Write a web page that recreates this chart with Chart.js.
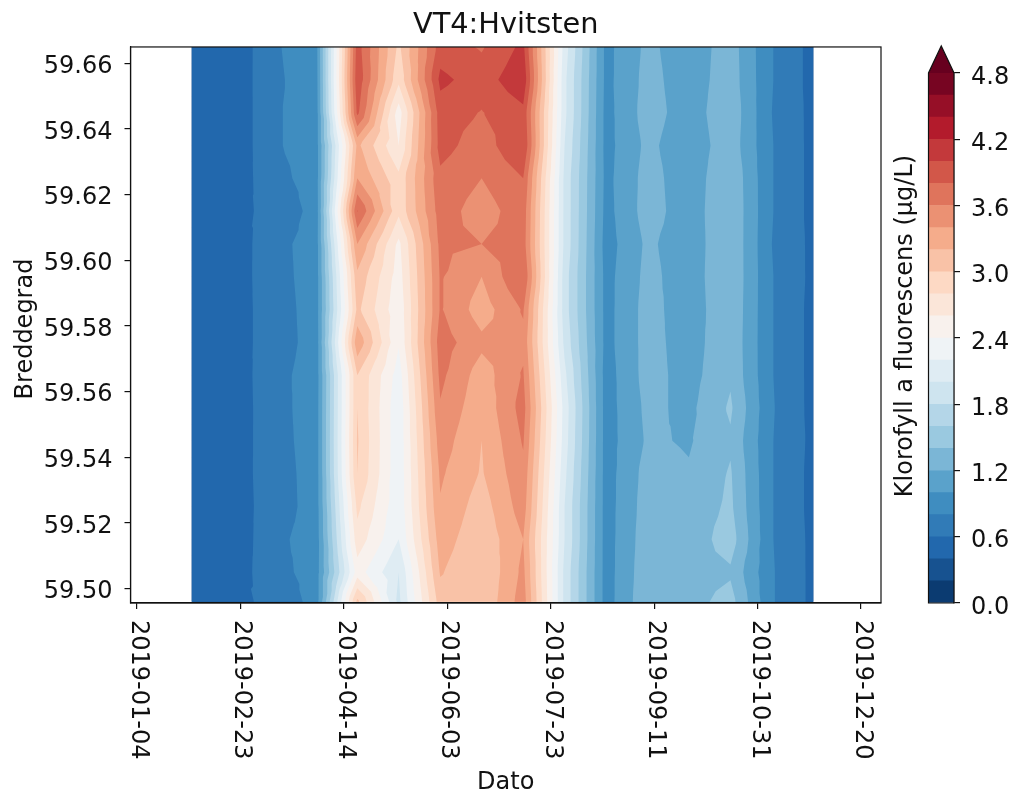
<!DOCTYPE html>
<html>
<head>
<meta charset="utf-8">
<title>VT4:Hvitsten</title>
<script src="https://cdn.jsdelivr.net/npm/chart.js@4"></script>
<style>
    body { margin: 0; background: #fff; }
    canvas { position: absolute; top: 0; }
    #contourChart { left: 0; }
    #colorbarChart { left: 880px; }
</style>
</head>
<body>
<canvas id="contourChart" width="1016" height="798"></canvas>
<canvas id="colorbarChart" width="136" height="798"></canvas>
<script>
// x is days since 2019-01-01
const days = [29.5, 49.5, 69.5, 89.5, 109.5, 129.5, 149.6, 169.6, 189.7, 209.7, 229.8, 249.8, 269.8, 289.9, 309.9, 329.9];
const lats = [59.665, 59.655, 59.645, 59.635, 59.625, 59.615, 59.605, 59.595, 59.585, 59.575, 59.565, 59.555, 59.545, 59.535, 59.525, 59.515, 59.505, 59.496];

// one list per date, from north to south
const fluorescence = [
    [0.46, 0.46, 0.45, 0.46, 0.45, 0.45, 0.46, 0.46, 0.45, 0.45, 0.46, 0.46, 0.45, 0.45, 0.46, 0.46, 0.46, 0.45],
    [0.44, 0.45, 0.44, 0.44, 0.47, 0.55, 0.48, 0.49, 0.50, 0.50, 0.47, 0.47, 0.48, 0.50, 0.50, 0.45, 0.49, 0.57],
    [0.78, 0.77, 0.78, 0.78, 0.74, 0.65, 0.74, 0.73, 0.71, 0.71, 0.75, 0.74, 0.73, 0.71, 0.70, 0.76, 0.73, 0.63],
    [0.90, 0.89, 0.88, 0.88, 0.88, 0.87, 0.88, 0.88, 0.88, 0.87, 0.87, 0.88, 0.88, 0.88, 0.88, 0.87, 0.88, 0.88],
    [3.90, 3.95, 3.85, 3.25, 3.40, 3.81, 3.40, 3.15, 3.05, 3.35, 3.00, 3.00, 3.02, 3.00, 2.85, 2.72, 2.50, 3.05],
    [2.95, 2.85, 2.50, 2.60, 2.85, 2.85, 2.55, 2.50, 2.45, 2.42, 2.30, 2.25, 2.25, 2.25, 2.25, 2.20, 2.00, 1.95],
    [3.90, 4.05, 3.90, 3.88, 3.75, 3.70, 3.65, 3.62, 3.62, 3.70, 3.65, 3.58, 3.50, 3.43, 3.38, 3.30, 3.22, 3.10],
    [3.78, 3.90, 3.79, 3.69, 3.60, 3.50, 3.60, 3.40, 3.30, 3.45, 3.30, 3.25, 3.20, 3.18, 3.10, 3.05, 3.00, 3.02],
    [4.05, 4.15, 3.95, 4.00, 3.80, 3.72, 3.70, 3.80, 3.62, 3.55, 3.62, 3.68, 3.62, 3.55, 3.50, 3.40, 3.45, 3.50],
    [2.10, 2.05, 2.05, 2.00, 1.95, 1.95, 1.95, 1.90, 1.90, 1.95, 2.05, 2.12, 2.10, 2.05, 2.00, 2.00, 1.95, 1.95],
    [0.94, 0.94, 0.93, 0.93, 0.94, 0.93, 0.91, 0.93, 0.93, 0.93, 0.91, 0.91, 0.91, 0.91, 0.91, 0.91, 0.91, 0.91],
    [1.25, 1.27, 1.29, 1.25, 1.28, 1.29, 1.24, 1.26, 1.28, 1.28, 1.28, 1.25, 1.23, 1.28, 1.30, 1.32, 1.34, 1.36],
    [1.08, 1.09, 1.10, 1.07, 1.08, 1.09, 1.08, 1.09, 1.08, 1.10, 1.12, 1.15, 1.18, 1.22, 1.27, 1.28, 1.30, 1.32],
    [1.30, 1.31, 1.34, 1.32, 1.37, 1.38, 1.38, 1.38, 1.37, 1.36, 1.37, 1.43, 1.37, 1.42, 1.44, 1.50, 1.37, 1.48],
    [0.81, 0.81, 0.80, 0.81, 0.81, 0.81, 0.80, 0.81, 0.81, 0.81, 0.81, 0.82, 0.81, 0.81, 0.81, 0.81, 0.82, 0.82],
    [0.53, 0.53, 0.54, 0.54, 0.54, 0.54, 0.55, 0.55, 0.54, 0.54, 0.54, 0.54, 0.55, 0.54, 0.54, 0.55, 0.55, 0.55]
];

const xTicks = [3, 53, 103, 153, 203, 253, 303, 353];
const xTickLabels = ["2019-01-04", "2019-02-23", "2019-04-14", "2019-06-03", "2019-07-23", "2019-09-11", "2019-10-31", "2019-12-20"];
const yTicks = [59.50, 59.52, 59.54, 59.56, 59.58, 59.60, 59.62, 59.64, 59.66];
const barTicks = [0, 0.6, 1.2, 1.8, 2.4, 3.0, 3.6, 4.2, 4.8];
const levels = [0, 0.2, 0.4, 0.6, 0.8, 1.0, 1.2, 1.4, 1.6, 1.8, 2.0, 2.2, 2.4, 2.6, 2.8, 3.0, 3.2, 3.4, 3.6, 3.8, 4.0, 4.2, 4.4, 4.6, 4.8];

// RdBu_r anchors
const cmap = ["#053061", "#2166ac", "#4393c3", "#92c5de", "#d1e5f0", "#f7f7f7", "#fddbc7", "#f4a582", "#d6604d", "#b2182b", "#67001f"];
const overColor = "#67001f";
const inkColor = "#111";
const labelFont = "24px 'DejaVu Sans'";

Chart.defaults.font.family = "'DejaVu Sans'";
Chart.defaults.font.size = 24;
Chart.defaults.color = inkColor;

const hexToRgb = (hex) => [1, 3, 5].map((i) => parseInt(hex.substr(i, 2), 16));

const cmapColor = (t) => {
    const pos = t * (cmap.length - 1);
    const i = Math.min(Math.floor(pos), cmap.length - 2);
    const a = hexToRgb(cmap[i]);
    const b = hexToRgb(cmap[i + 1]);
    const c = a.map((v, k) => Math.round(v + (b[k] - v) * (pos - i)));
    return `rgb(${c[0]}, ${c[1]}, ${c[2]})`;
};

const bandColors = levels.slice(1).map((_, i) => cmapColor((i + 0.5) / (levels.length - 1)));

// keep the part of a polygon that lies above one level
const clipAbove = (poly, level) => {
    const out = [];
    for (let i = 0; i < poly.length; i++) {
        const p = poly[i];
        const q = poly[(i + 1) % poly.length];
        const pIn = p.v >= level;
        const qIn = q.v >= level;
        if (pIn) out.push(p);
        if (pIn !== qIn) {
            const f = (level - p.v) / (q.v - p.v);
            out.push({ x: p.x + (q.x - p.x) * f, y: p.y + (q.y - p.y) * f, v: level });
        }
    }
    return out;
};

const drawText = (ctx, text, x, y, angle, align, baseline) => {
    ctx.save();
    ctx.translate(x, y);
    ctx.rotate(angle);
    ctx.font = labelFont;
    ctx.fillStyle = inkColor;
    ctx.textAlign = align;
    ctx.textBaseline = baseline;
    ctx.fillText(text, 0, 0);
    ctx.restore();
};

const contourPlugin = {
    id: "contour",
    beforeDatasetsDraw(chart) {
        const { ctx, chartArea, scales } = chart;
        const corner = (c, r) => ({
            x: scales.x.getPixelForValue(days[c]),
            y: scales.y.getPixelForValue(lats[r]),
            v: fluorescence[c][r],
        });
        const triangles = [];
        for (let c = 0; c < days.length - 1; c++) {
            for (let r = 0; r < lats.length - 1; r++) {
                const quad = [corner(c, r), corner(c + 1, r), corner(c + 1, r + 1), corner(c, r + 1)];
                const mid = {
                    x: (quad[0].x + quad[2].x) / 2,
                    y: (quad[0].y + quad[2].y) / 2,
                    v: (quad[0].v + quad[1].v + quad[2].v + quad[3].v) / 4,
                };
                for (let k = 0; k < 4; k++) {
                    triangles.push([quad[k], quad[(k + 1) % 4], mid]);
                }
            }
        }
        ctx.save();
        ctx.beginPath();
        ctx.rect(chartArea.left, chartArea.top, chartArea.right - chartArea.left, chartArea.bottom - chartArea.top);
        ctx.clip();
        // paint from the lowest level up, one path per level so no seams show
        levels.forEach((level, i) => {
            ctx.beginPath();
            triangles.forEach((tri) => {
                const poly = clipAbove(tri, level);
                if (poly.length < 3) return;
                poly.forEach((p, k) => (k ? ctx.lineTo(p.x, p.y) : ctx.moveTo(p.x, p.y)));
                ctx.closePath();
            });
            ctx.fillStyle = i < bandColors.length ? bandColors[i] : overColor;
            ctx.fill();
        });
        ctx.restore();
    },
    afterDraw(chart) {
        const { ctx, chartArea, scales } = chart;
        ctx.save();
        ctx.strokeStyle = inkColor;
        ctx.lineWidth = 1.2;
        ctx.strokeRect(chartArea.left, chartArea.top, chartArea.right - chartArea.left, chartArea.bottom - chartArea.top);
        ctx.restore();
        // chart.js can only turn x labels the other way round
        scales.x.ticks.forEach((tick, i) => {
            drawText(ctx, tick.label, scales.x.getPixelForTick(i) - 5, 620, Math.PI / 2, "left", "alphabetic");
        });
        scales.y.ticks.forEach((tick, i) => {
            drawText(ctx, tick.label, 112.5, scales.y.getPixelForTick(i) + 9.7, 0, "right", "alphabetic");
        });
        drawText(ctx, "Breddegrad", 26, 329, -Math.PI / 2, "center", "middle");
    },
};

const gridPoints = [];
days.forEach((d, c) => lats.forEach((lat, r) => gridPoints.push({ x: d, y: lat, v: fluorescence[c][r] })));

const contourChart = new Chart(document.getElementById("contourChart"), {
    type: "scatter",
    data: { datasets: [{ data: gridPoints, pointRadius: 0, showLine: false }] },
    plugins: [contourPlugin],
    options: {
        responsive: false,
        animation: false,
        layout: { padding: { right: 135 } },
        plugins: {
            legend: { display: false },
            tooltip: { enabled: false },
            title: {
                display: true,
                text: "VT4:Hvitsten",
                fullSize: false,
                color: inkColor,
                font: { size: 28.8, weight: "normal" },
                padding: { top: 8, bottom: 4.4 },
            },
        },
        scales: {
            x: {
                type: "linear",
                min: -0.14,
                max: 362.67,
                afterFit: (scale) => { scale.height = 195; },
                afterBuildTicks: (scale) => { scale.ticks = xTicks.map((v) => ({ value: v })); },
                ticks: { display: false, callback: (v) => xTickLabels[xTicks.indexOf(v)] },
                grid: { drawOnChartArea: false, color: inkColor, tickLength: 6, lineWidth: 1.2 },
                border: { color: inkColor, width: 1.2 },
                title: { display: true, text: "Dato", color: inkColor, padding: { top: 0, bottom: 0.6 } },
            },
            y: {
                type: "linear",
                min: 59.4956,
                max: 59.665,
                afterFit: (scale) => { scale.width = 130.5; },
                afterBuildTicks: (scale) => { scale.ticks = yTicks.map((v) => ({ value: v })); },
                ticks: { display: false, callback: (v) => v.toFixed(2) },
                grid: { drawOnChartArea: false, color: inkColor, tickLength: 6, lineWidth: 1.2 },
                border: { color: inkColor, width: 1.2 },
            },
        },
    },
});

const colorbarPlugin = {
    id: "colorbarOutline",
    afterDraw(chart) {
        const { ctx, chartArea, scales } = chart;
        const { left, right, top, bottom } = chartArea;
        const tipY = top - 27;
        ctx.save();
        ctx.beginPath();
        ctx.moveTo(left, top);
        ctx.lineTo((left + right) / 2, tipY);
        ctx.lineTo(right, top);
        ctx.closePath();
        ctx.fillStyle = overColor;
        ctx.fill();
        ctx.beginPath();
        ctx.moveTo(left, bottom);
        ctx.lineTo(left, top);
        ctx.lineTo((left + right) / 2, tipY);
        ctx.lineTo(right, top);
        ctx.lineTo(right, bottom);
        ctx.closePath();
        ctx.strokeStyle = inkColor;
        ctx.lineWidth = 1.2;
        ctx.stroke();
        ctx.restore();
        scales.y.ticks.forEach((tick, i) => {
            drawText(ctx, tick.label, 91, scales.y.getPixelForTick(i) + 10.7, 0, "left", "alphabetic");
        });
        drawText(ctx, "Klorofyll a fluorescens (µg/L)", 26, 326, -Math.PI / 2, "center", "middle");
    },
};

const colorbarChart = new Chart(document.getElementById("colorbarChart"), {
    type: "bar",
    data: {
        labels: [""],
        datasets: bandColors.map((color, i) => ({
            data: [[levels[i], levels[i + 1]]],
            backgroundColor: color,
            borderWidth: 0,
        })),
    },
    plugins: [colorbarPlugin],
    options: {
        responsive: false,
        animation: false,
        layout: { padding: { top: 73, bottom: 195, left: 48.5 } },
        datasets: { bar: { grouped: false, barPercentage: 1, categoryPercentage: 1 } },
        plugins: { legend: { display: false }, tooltip: { enabled: false } },
        scales: {
            x: { display: false },
            y: {
                position: "right",
                min: 0,
                max: 4.8,
                afterFit: (scale) => { scale.width = 62; },
                afterBuildTicks: (scale) => { scale.ticks = barTicks.map((v) => ({ value: v })); },
                ticks: { display: false, callback: (v) => v.toFixed(1) },
                grid: { drawOnChartArea: false, color: inkColor, tickLength: 6, lineWidth: 1.2 },
                border: { color: inkColor, width: 1.2 },
            },
        },
    },
});
</script>
</body>
</html>
